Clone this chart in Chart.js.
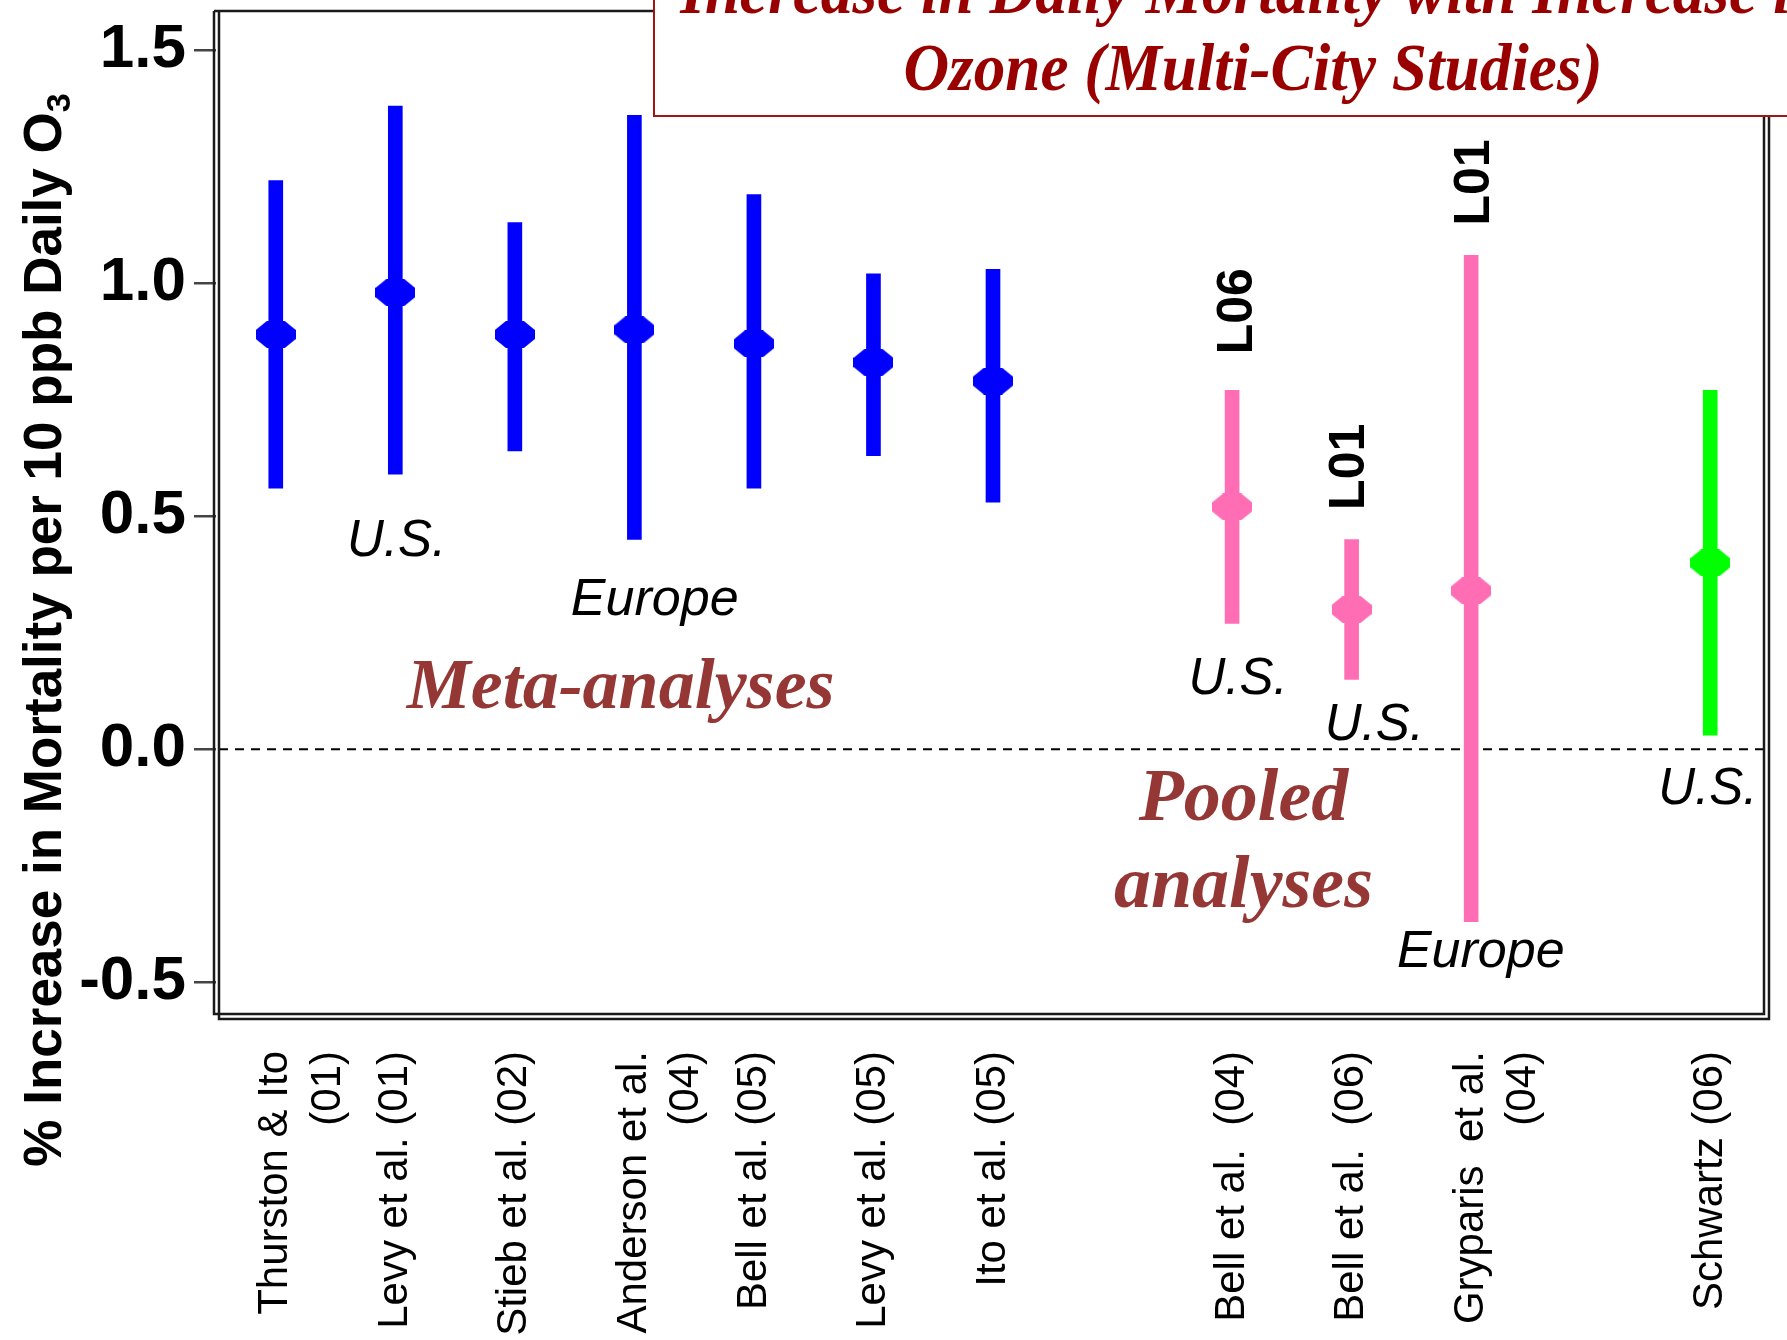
<!DOCTYPE html>
<html>
<head>
<meta charset="utf-8">
<script src="https://cdn.jsdelivr.net/npm/chart.js@4.4.1/dist/chart.umd.min.js"></script>
<style>
  html, body { margin: 0; padding: 0; background: #fff; }
  #wrap { width: 1787px; height: 1340px; position: relative; }
</style>
</head>
<body>
<div id="wrap"><canvas id="main-chart"></canvas></div>
<script>
// studies along the x axis; '' keeps an empty slot between the groups
const studies = [
  ['Thurston & Ito', '(01)'], 'Levy et al. (01)', 'Stieb et al. (02)', ['Anderson et al.', '(04)'],
  'Bell et al. (05)', 'Levy et al. (05)', 'Ito et al. (05)', '',
  'Bell et al.  (04)', 'Bell et al.  (06)', ['Gryparis  et al.', '(04)'], '',
  'Schwartz (06)'
];
const groups = ['meta', 'meta', 'meta', 'meta', 'meta', 'meta', 'meta', null,
  'pooled', 'pooled', 'pooled', null, 'single'];

// % increase in mortality per 10 ppb daily O3, with 95% interval
const estimate = [0.89, 0.98, 0.89, 0.90, 0.87, 0.83, 0.79, null, 0.52, 0.30, 0.34, null, 0.40];
const lower    = [0.56, 0.59, 0.64, 0.45, 0.56, 0.63, 0.53, null, 0.27, 0.15, -0.37, null, 0.03];
const upper    = [1.22, 1.38, 1.13, 1.36, 1.19, 1.02, 1.03, null, 0.77, 0.45, 1.06, null, 0.77];

const yTicks = [-0.5, 0.0, 0.5, 1.0, 1.5];

const colors = { meta: '#0000FF', pooled: '#FF6EB4', single: '#00FF00' };

const sans = '"Liberation Sans", Arial, Helvetica, sans-serif';
const serif = '"Liberation Serif", "Times New Roman", serif';

// flat octagon used as the point marker
const makeMarker = (color) => {
  const c = document.createElement('canvas');
  c.width = 40; c.height = 27;
  const g = c.getContext('2d');
  g.fillStyle = color;
  g.beginPath();
  g.moveTo(11, 0); g.lineTo(29, 0); g.lineTo(40, 9); g.lineTo(40, 18);
  g.lineTo(29, 27); g.lineTo(11, 27); g.lineTo(0, 18); g.lineTo(0, 9);
  g.closePath();
  g.fill();
  return c;
};
const markers = {
  meta: makeMarker(colors.meta),
  pooled: makeMarker(colors.pooled),
  single: makeMarker(colors.single)
};

// text placed in data coordinates (category index, y value)
const notes = [
  { text: 'U.S.', x: 1.01, y: 0.446, font: 'italic 51px ' + sans, color: '#000' },
  { text: 'Europe', x: 3.17, y: 0.319, font: 'italic 52px ' + sans, color: '#000' },
  { text: 'Meta-analyses', x: 2.885, y: 0.128, font: 'italic bold 72px ' + serif, color: '#953735' },
  { text: 'Pooled', x: 8.095, y: -0.111, font: 'italic bold 74px ' + serif, color: '#953735' },
  { text: 'analyses', x: 8.095, y: -0.297, font: 'italic bold 74px ' + serif, color: '#953735' },
  { text: 'U.S.', x: 8.05, y: 0.149, font: 'italic 51px ' + sans, color: '#000' },
  { text: 'U.S.', x: 9.19, y: 0.050, font: 'italic 51px ' + sans, color: '#000' },
  { text: 'Europe', x: 10.08, y: -0.437, font: 'italic 52px ' + sans, color: '#000' },
  { text: 'U.S.', x: 11.98, y: -0.087, font: 'italic 51px ' + sans, color: '#000' },
  { text: 'L06', x: 8.05, y: 0.940, font: 'bold 50px ' + sans, color: '#000', rotate: true },
  { text: 'L01', x: 8.99, y: 0.606, font: 'bold 50px ' + sans, color: '#000', rotate: true },
  { text: 'L01', x: 10.03, y: 1.216, font: 'bold 50px ' + sans, color: '#000', rotate: true }
];

const decorations = {
  id: 'decorations',
  beforeDatasetsDraw(chart) {
    const { ctx, chartArea: ca, scales: { y } } = chart;
    const y0 = y.getPixelForValue(0);
    ctx.save();
    ctx.strokeStyle = '#000';
    ctx.lineWidth = 2;
    ctx.setLineDash([9, 7]);
    ctx.beginPath();
    ctx.moveTo(ca.left + 3, y0);
    ctx.lineTo(ca.right - 6, y0);
    ctx.stroke();
    ctx.restore();
  },
  afterDraw(chart) {
    const { ctx, chartArea: ca, scales: { x, y } } = chart;
    ctx.save();

    // double frame round the plot
    ctx.strokeStyle = '#1a1a1a';
    ctx.lineWidth = 2.5;
    const l1 = ca.left - 2, l2 = ca.left + 3;
    const b1 = ca.bottom, b2 = ca.bottom + 5;
    const r1 = ca.right - 6, r2 = ca.right - 1;
    ctx.beginPath();
    ctx.moveTo(l1, ca.top); ctx.lineTo(r1, ca.top);
    ctx.moveTo(l1, ca.top); ctx.lineTo(l1, b1); ctx.lineTo(r1, b1); ctx.lineTo(r1, ca.top);
    ctx.moveTo(l2, ca.top); ctx.lineTo(l2, b2); ctx.lineTo(r2, b2); ctx.lineTo(r2, ca.top);
    ctx.stroke();

    // y axis title with subscript
    ctx.save();
    ctx.translate(46, 630);
    ctx.rotate(-Math.PI / 2);
    ctx.fillStyle = '#000';
    ctx.textBaseline = 'middle';
    ctx.textAlign = 'left';
    const main = '% Increase in Mortality per 10 ppb Daily O';
    ctx.font = 'bold 53px ' + sans;
    const w1 = ctx.measureText(main).width;
    ctx.font = 'bold 34px ' + sans;
    const w2 = ctx.measureText('3').width;
    const start = -(w1 + w2) / 2;
    ctx.font = 'bold 53px ' + sans;
    ctx.fillText(main, start, 0);
    ctx.font = 'bold 34px ' + sans;
    ctx.fillText('3', start + w1, 15);
    ctx.restore();

    // notes
    notes.forEach(n => {
      const px = x.getPixelForValue(n.x);
      const py = y.getPixelForValue(n.y);
      ctx.save();
      ctx.font = n.font;
      ctx.fillStyle = n.color;
      ctx.textAlign = 'center';
      ctx.textBaseline = 'middle';
      ctx.translate(px, py);
      if (n.rotate) ctx.rotate(-Math.PI / 2);
      ctx.fillText(n.text, 0, 0);
      ctx.restore();
    });

    // title box
    ctx.fillStyle = '#fff';
    ctx.fillRect(654, -10, 1200, 126);
    ctx.strokeStyle = '#A01515';
    ctx.lineWidth = 2;
    ctx.strokeRect(654, -10, 1200, 126);
    ctx.save();
    ctx.fillStyle = '#990000';
    ctx.font = 'italic bold 68px ' + serif;
    ctx.textAlign = 'center';
    ctx.textBaseline = 'alphabetic';
    ctx.scale(0.93, 1);
    ctx.fillText('Increase in Daily Mortality with Increase in', 1253 / 0.93, 13);
    ctx.fillText('Ozone (Multi-City Studies)', 1253 / 0.93, 90);
    ctx.restore();

    ctx.restore();
  }
};

const data = {
  labels: studies,
  datasets: [{
    type: 'bar',
    data: lower.map((lo, i) => lo === null ? null : [lo, upper[i]]),
    backgroundColor: groups.map(g => colors[g] || 'transparent'),
    borderWidth: 0,
    barThickness: 14,
    order: 2
  }, {
    type: 'line',
    data: estimate,
    showLine: false,
    pointStyle: groups.map(g => markers[g] || 'circle'),
    pointRadius: 20,
    order: 1
  }]
};

const config = {
  type: 'bar',
  data,
  options: {
    responsive: true,
    maintainAspectRatio: false,
    animation: false,
    events: [],
    layout: { autoPadding: false, padding: { top: 11, right: 17, bottom: 0, left: 0 } },
    plugins: {
      legend: { display: false },
      tooltip: { enabled: false }
    },
    scales: {
      x: {
        type: 'category',
        offset: true,
        grid: { display: false, drawTicks: false },
        border: { display: false },
        ticks: {
          autoSkip: false,
          minRotation: 90,
          maxRotation: 90,
          padding: 37,
          color: '#000',
          font: { family: sans, size: 42, lineHeight: 1.25 }
        },
        afterFit: s => { s.height = 326; s.paddingLeft = 0; s.paddingRight = 0; }
      },
      y: {
        min: -0.568,
        max: 1.584,
        afterBuildTicks: s => { s.ticks = yTicks.map(v => ({ value: v })); },
        ticks: {
          callback: v => v.toFixed(1),
          color: '#000',
          padding: 8,
          font: { family: sans, size: 62, weight: 'bold' }
        },
        grid: { drawOnChartArea: false, tickLength: 22, color: '#444', lineWidth: 2.5 },
        border: { display: false },
        afterFit: s => { s.width = 216; s.paddingTop = 0; s.paddingBottom = 0; }
      }
    }
  },
  plugins: [decorations]
};

const chart = new Chart(document.getElementById('main-chart'), config);
</script>
</body>
</html>
